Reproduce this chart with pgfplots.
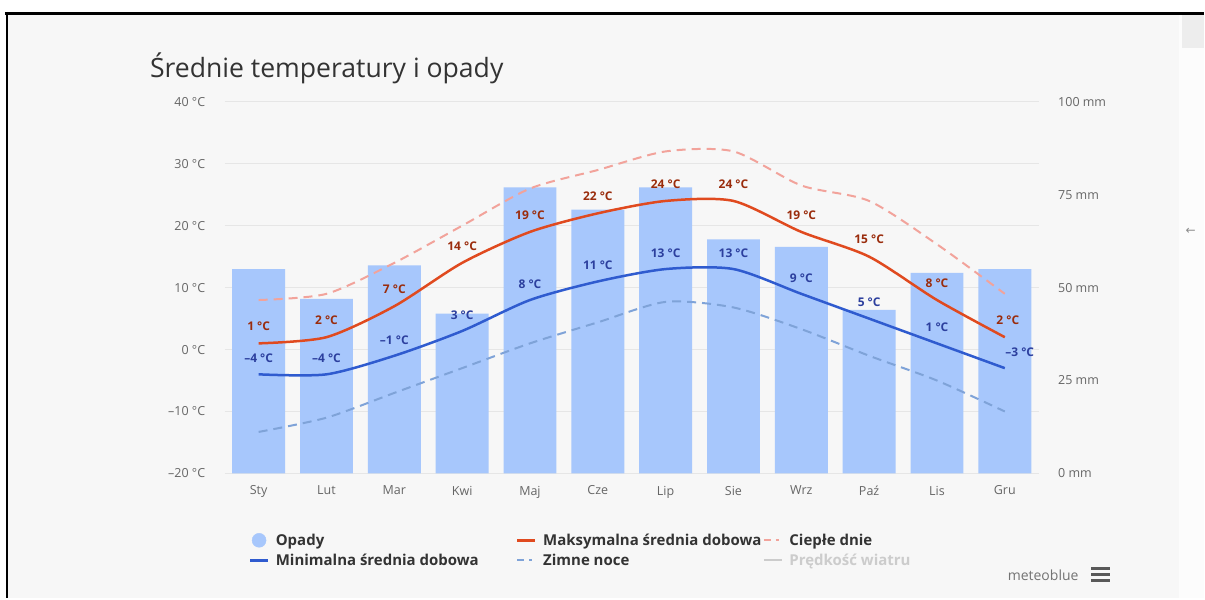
\documentclass[border=0pt]{standalone}
\usepackage{fontspec}
\setmainfont{Open Sans}
\newfontfamily\symfont{DejaVu Sans}
\usepackage{pgfplots}
\pgfplotsset{compat=1.18}
\definecolor{bgc}{HTML}{F7F7F7}
\definecolor{gridc}{HTML}{E6E6E6}
\definecolor{barc}{HTML}{A7C7FC}
\definecolor{maxc}{HTML}{E04A1F}
\definecolor{minc}{HTML}{2F5BCF}
\definecolor{warmc}{HTML}{F2A39B}
\definecolor{coldc}{HTML}{7FA3D8}
\definecolor{maxlab}{HTML}{9A2C0C}
\definecolor{minlab}{HTML}{2C3F9E}
\definecolor{tickc}{HTML}{666666}
\definecolor{legc}{HTML}{333333}
\definecolor{windc}{HTML}{CCCCCC}
\definecolor{titlec}{HTML}{333333}

\pgfplotsset{
  chartbase/.style={
    at={(225pt,125pt)}, anchor=south west,
    scale only axis, width=815pt, height=372pt,
    xmin=-0.5, xmax=11.5,
    axis line style={draw=none},
    major tick length=0pt,
    tick style={draw=none},
    ticklabel style={font=\fontsize{12.5}{13}\selectfont, text=tickc},
  }
}

\begin{document}
\begin{tikzpicture}[x=1pt,y=1pt]
% page and frame
\fill[white] (0,0) rectangle (1205,599);
\fill[bgc] (7,0) rectangle (1205,585);
\fill[white!60!bgc] (1180,0) rectangle (1205,585);
\fill[black!7] (1183,551) rectangle (1205,584);
\draw[line width=3pt] (5,585.5) -- (1205,585.5);
\draw[line width=2.5pt] (7.25,587) -- (7.25,0);
\node[text=black!45, font=\symfont\fontsize{12}{12}\selectfont] at (1192,367) {←};

% title
\node[anchor=base west, font=\fontsize{26.6}{27}\selectfont, text=titlec, inner sep=0pt] at (150,521) {Średnie temperatury i opady};

% axis 1: temperature grid and labels
\begin{axis}[chartbase,
  ymin=-20, ymax=40,
  ytick={-20,-10,0,10,20,30,40},
  yticklabels={–20 °C,–10 °C,0 °C,10 °C,20 °C,30 °C,40 °C},
  yticklabel style={anchor=east, xshift=-16pt},
  ymajorgrids, grid style={gridc, line width=1pt},
  xtick={0,...,11},
  xticklabels={Sty,Lut,Mar,Kwi,Maj,Cze,Lip,Sie,Wrz,Paź,Lis,Gru},
  xticklabel style={anchor=north, yshift=-9pt},
]
\addplot[draw=none, forget plot] coordinates {(0,0)};
\end{axis}

% axis 2: precipitation bars
\begin{axis}[chartbase,
  ymin=0, ymax=100,
  ytick={0,25,50,75,100},
  yticklabels={0 mm,25 mm,50 mm,75 mm,100 mm},
  ytick pos=right,
  yticklabel style={anchor=west, xshift=16pt},
  xtick=\empty,
]
\addplot[ybar, bar width=53pt, bar shift=0pt, fill=barc, draw=none] coordinates {
(0,55) (1,47) (2,56) (3,43) (4,77) (5,71) (6,77) (7,63) (8,61) (9,44) (10,54) (11,55)};
\end{axis}

% axis 3: temperature lines
\begin{axis}[chartbase,
  ymin=-20, ymax=40,
  xtick=\empty, ytick=\empty,
  legend columns=3,
  legend cell align=left,
  legend style={at={(axis description cs:0.0294,-0.158)}, anchor=north west,
    draw=none, fill=none, inner sep=0pt, row sep=4pt,
    font=\bfseries\fontsize{15}{15}\selectfont, text=legc,
    nodes={inner sep=1.5pt},
    /tikz/every odd column/.style={column sep=5pt},
    /tikz/column 2/.style={column sep=36pt},
    /tikz/column 4/.style={column sep=0pt}},
  legend image code/.code={\draw[#1] (0pt,0pt) -- (18pt,0pt);},
]
\addlegendimage{legend image code/.code={\fill[barc] (9pt,0pt) circle (7pt);}}
\addlegendentry{Opady}
\addlegendimage{maxc, line width=2.5pt}
\addlegendentry{Maksymalna średnia dobowa}
\addlegendimage{warmc, line width=2pt, dash pattern=on 7pt off 5pt on 3pt off 3pt}
\addlegendentry{Ciepłe dnie}
\addlegendimage{minc, line width=2.5pt}
\addlegendentry{Minimalna średnia dobowa}
\addlegendimage{coldc, line width=2pt, dash pattern=on 7pt off 5pt on 3pt off 3pt}
\addlegendentry{Zimne noce}
\addlegendimage{windc, line width=2pt}
\addlegendentry{\textcolor{windc}{Prędkość wiatru}}

% warm days
\addplot[forget plot, warmc, line width=2pt, dash pattern=on 9pt off 6pt, smooth, tension=0.45] coordinates {
(0,8) (1,9) (2,14) (3,20) (4,26) (5,29) (6,32) (7,32) (8,26.5) (9,24) (10,17) (11,9)};
% cold nights
\addplot[forget plot, coldc, line width=2pt, dash pattern=on 9pt off 6pt, smooth, tension=0.45] coordinates {
(0,-13.3) (1,-11) (2,-7) (3,-3) (4,1) (5,4.4) (6,7.7) (7,6.8) (8,3.3) (9,-1) (10,-5) (11,-10)};
% max
\addplot[forget plot, maxc, line width=2.5pt, smooth, tension=0.45,
  point meta=explicit symbolic,
  nodes near coords={\pgfplotspointmeta~°C},
  every node near coord/.append style={font=\bfseries\fontsize{12}{12}\selectfont, text=maxlab, anchor=center, yshift=17pt},
  coordinate style/.condition={x>10.5}{xshift=3pt}]
coordinates {
(0,1)[1] (1,2)[2] (2,7)[7] (3,14)[14] (4,19)[19] (5,22)[22] (6,24)[24] (7,24)[24] (8,19)[19] (9,15)[15] (10,8)[8] (11,2)[2]};
% min
\addplot[forget plot, minc, line width=2.5pt, smooth, tension=0.45,
  point meta=explicit symbolic,
  nodes near coords={\pgfplotspointmeta~°C},
  every node near coord/.append style={font=\bfseries\fontsize{12}{12}\selectfont, text=minlab, anchor=center, yshift=16pt},
  coordinate style/.condition={x>10.5}{xshift=15pt}]
coordinates {
(0,-4)[–4] (1,-4)[–4] (2,-1)[–1] (3,3)[3] (4,8)[8] (5,11)[11] (6,13)[13] (7,13)[13] (8,9)[9] (9,5)[5] (10,1)[1] (11,-3)[–3]};
\end{axis}

% credits
\node[anchor=base east, text=black!55, font=\fontsize{14}{14}\selectfont, inner sep=0pt] at (1080,18) {meteoblue};
\foreach \yy in {16,22,28} \fill[black!65] (1092,\yy) rectangle (1111,\yy+3);
\end{tikzpicture}
\end{document}
